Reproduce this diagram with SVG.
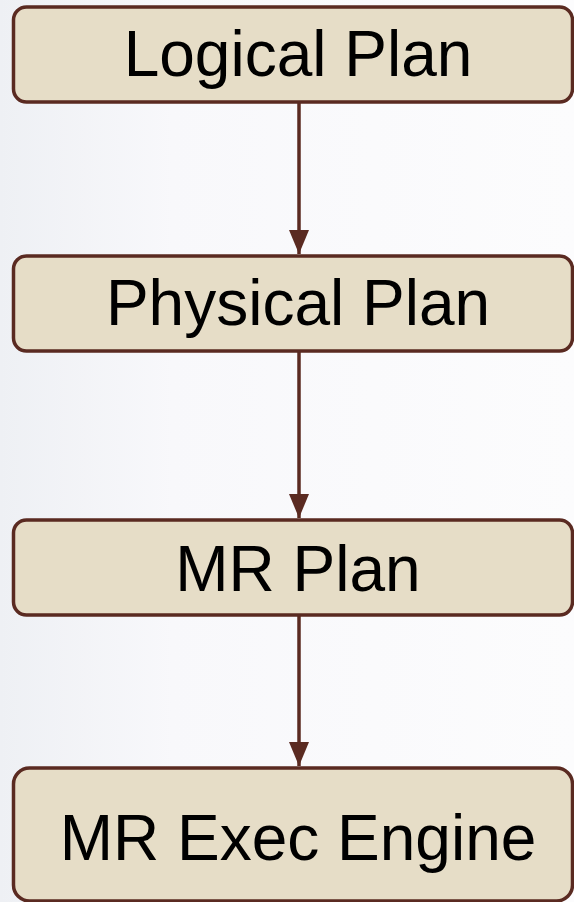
<svg xmlns="http://www.w3.org/2000/svg" width="574" height="902" viewBox="0 0 574 902">
<defs>
<linearGradient id="bg" x1="0" y1="0" x2="1" y2="0">
<stop offset="0" stop-color="#eef0f4"/>
<stop offset="0.3" stop-color="#f8f8fb"/>
<stop offset="1" stop-color="#fcfcfd"/>
</linearGradient>
<marker id="arr" viewBox="0 0 24 20" refX="24" refY="10" markerWidth="24" markerHeight="20" markerUnits="userSpaceOnUse" orient="auto">
<path d="M0,0 L24,10 L0,20 Z" fill="#5a2a21"/>
</marker>
</defs>
<style>
.box{fill:#e6ddc7;stroke:#5a2a21;stroke-width:3.5}
.lbl{font-family:"Liberation Sans",Arial,sans-serif;font-size:64px;fill:#000;text-anchor:middle}
.edge{stroke:#5a2a21;stroke-width:3.5;fill:none}
</style>
<rect width="574" height="902" fill="url(#bg)"/>
<g id="connectors">
<line class="edge" x1="299" y1="102" x2="299" y2="254" marker-end="url(#arr)"/>
<line class="edge" x1="299" y1="352" x2="299" y2="518" marker-end="url(#arr)"/>
<line class="edge" x1="299" y1="615" x2="299" y2="766" marker-end="url(#arr)"/>
</g>
<g id="logical-plan">
<rect class="box" x="13.5" y="7" width="559" height="95" rx="13"/>
<text class="lbl" x="298" y="76">Logical Plan</text>
</g>
<g id="physical-plan">
<rect class="box" x="13.5" y="256" width="559" height="95" rx="13"/>
<text class="lbl" x="298" y="325">Physical Plan</text>
</g>
<g id="mr-plan">
<rect class="box" x="13.5" y="520" width="559" height="95" rx="13"/>
<text class="lbl" x="298" y="591">MR Plan</text>
</g>
<g id="mr-exec-engine">
<rect class="box" x="13.5" y="768" width="559" height="133" rx="16"/>
<text class="lbl" x="298" y="860">MR Exec Engine</text>
</g>
</svg>
